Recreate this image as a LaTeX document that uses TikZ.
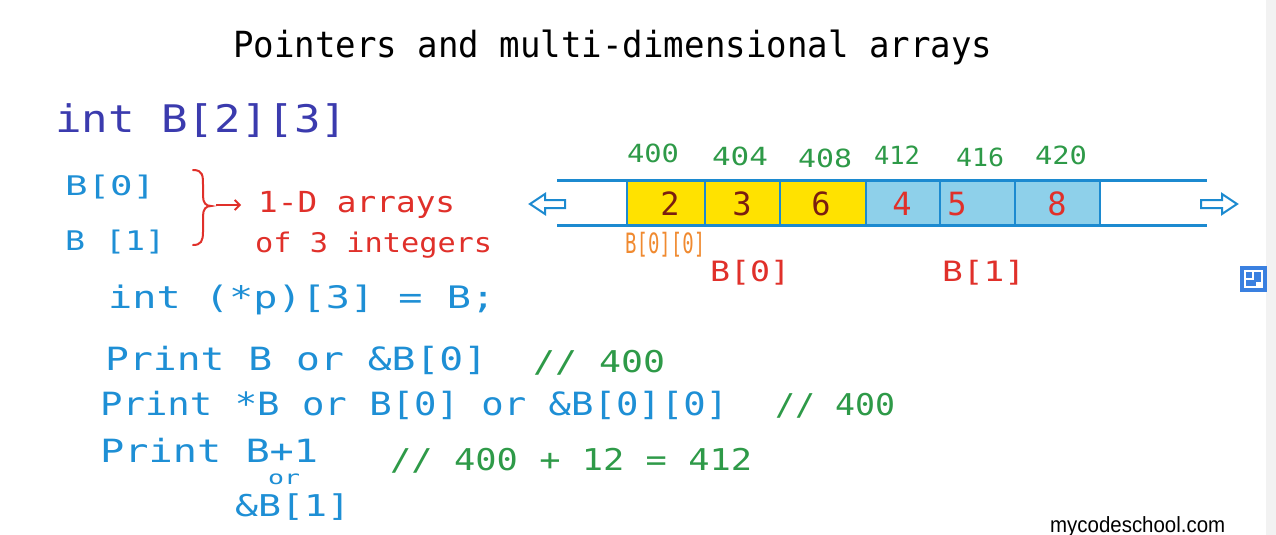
\documentclass[tikz,border=0pt]{standalone}
\usepackage{fontspec}
\newfontfamily\hand{DejaVu Sans Mono}
\setsansfont{Liberation Sans}
\usetikzlibrary{arrows.meta}
\definecolor{navy}{HTML}{3B3BAE}
\definecolor{sky}{HTML}{1E8FD5}
\definecolor{redink}{HTML}{E0302A}
\definecolor{greenink}{HTML}{2E9A48}
\definecolor{orangeink}{HTML}{F08A30}
\definecolor{brownink}{HTML}{7A1E10}
\definecolor{cellyellow}{HTML}{FFE200}
\definecolor{cellblue}{HTML}{8ED0EA}
\definecolor{lineblue}{HTML}{1C8AD0}
\definecolor{iconblue}{HTML}{3A80E0}
\newcommand\fw[2]{\resizebox{#1pt}{\height}{#2}}
\begin{document}
\begin{tikzpicture}[x=1pt,y=-1pt,
  hw/.style={inner sep=0pt, anchor=base west},
  hc/.style={inner sep=0pt, anchor=base},
  fs/.style={font=\hand\fontsize{#1}{#1}\selectfont},
  arrline/.style={lineblue, line width=3pt},
  cellline/.style={lineblue, line width=1.8pt},
  hollow/.style={lineblue, line width=2pt, fill=white, line join=miter}]
\fill[white] (0,0) rectangle (1276,535);
\path[use as bounding box] (0,0) rectangle (1276,535);
\fill[black!5] (1266,0) rectangle (1276,535);
% title
\node[hw, fs=36, black] (title) at (233,58) {\fw{759}{Pointers and multi-dimensional arrays}};
% declarations
\node[hw, fs=38, navy] (decl) at (55,132) {\fw{292}{int B[2][3]}};
\node[hw, fs=27, sky] (b0) at (65,195) {\fw{90}{B[0]}};
\node[hw, fs=27, sky] (b1) at (65,250) {\fw{100}{B [1]}};
% brace
\draw[redink, line width=2pt, line cap=round]
  (193,170) .. controls (203,170) and (203,176) .. (203,185)
  -- (203,196) .. controls (203,203) and (206,206) .. (211,206)
  .. controls (206,206) and (203,209) .. (203,216)
  -- (203,232) .. controls (203,241) and (201,245) .. (193,245);
\coordinate (bracetip) at (216,205);
\coordinate (arrowend) at (241,205);
\node[hw, fs=29, redink] (oned) at (258,212) {\fw{197}{1-D arrays}};
\node[hw, fs=27, redink] (ofthree) at (255,252) {\fw{237}{of 3 integers}};
\draw[redink, line width=1.8pt, -{Straight Barb[length=5pt,width=10pt]}] (bracetip) -- (arrowend);
\node[hw, fs=31, sky] (ptr) at (108,308) {\fw{387}{int (*p)[3] = B;}};
% prints
\node[hw, fs=32, sky] (p1) at (105,370) {\fw{382}{Print B or \&B[0]}};
\node[hw, fs=30, greenink] (g1) at (533,372) {\fw{132}{// 400}};
\node[hw, fs=32, sky] (p2) at (100,415) {\fw{628}{Print *B or B[0] or \&B[0][0]}};
\node[hw, fs=30, greenink] (g2) at (775,415) {\fw{120}{// 400}};
\node[hw, fs=32, sky] (p3) at (100,462) {\fw{218}{Print B+1}};
\node[hw, fs=19, sky] (por) at (268,484) {\fw{32}{or}};
\node[hw, fs=30, sky] (p3b) at (235,516) {\fw{115}{\&B[1]}};
\node[hw, fs=30, greenink] (g3) at (390,470) {\fw{362}{// 400 + 12 = 412}};
% array cells
\fill[cellyellow] (627,180) rectangle (866,225);
\fill[cellblue] (866,180) rectangle (1100,225);
\foreach \x in {627,705,780,866,940,1015,1100}
  \draw[cellline] (\x,180) -- (\x,225);
\draw[arrline] (557,180) -- (1207,180);
\draw[arrline] (557,225) -- (1207,225);
% hollow arrows
\draw[hollow] (530,204) -- (545,194) -- (545,200) -- (565,200) -- (565,208) -- (545,208) -- (545,214) -- cycle;
\draw[hollow] (1237,204) -- (1222,194) -- (1222,200) -- (1201,200) -- (1201,208) -- (1222,208) -- (1222,214) -- cycle;
% cell values
\node[hc, fs=32, brownink] (v0) at (670,215) {2};
\node[hc, fs=32, brownink] (v1) at (742,215) {3};
\node[hc, fs=32, brownink] (v2) at (821,215) {6};
\node[hc, fs=32, redink] (v3) at (902,215) {4};
\node[hc, fs=32, redink] (v4) at (957,215) {5};
\node[hc, fs=32, redink] (v5) at (1057,215) {8};
% addresses
\node[hc, fs=25, greenink] (a0) at (653,162) {\fw{52}{400}};
\node[hc, fs=25, greenink] (a1) at (740,165) {\fw{56}{404}};
\node[hc, fs=25, greenink] (a2) at (825,167) {\fw{54}{408}};
\node[hc, fs=25, greenink] (a3) at (897,164) {\fw{46}{412}};
\node[hc, fs=25, greenink] (a4) at (980,166) {\fw{48}{416}};
\node[hc, fs=25, greenink] (a5) at (1061,164) {\fw{52}{420}};
% labels below
\node[hw, fs=28, orangeink] (l00) at (625,253) {\fw{80}{B[0][0]}};
\node[hw, fs=28, redink] (lb0) at (710,281) {\fw{80}{B[0]}};
\node[hw, fs=28, redink] (lb1) at (942,281) {\fw{83}{B[1]}};
% watermark
\node[hw, font=\sffamily\fontsize{22}{22}\selectfont, black] (wm) at (1050,532) {\fw{175}{mycodeschool.com}};
% icon
\fill[iconblue] (1240,266) rectangle (1267,292);
\draw[white, line width=1.2pt] (1245,271) rectangle (1262,287);
\draw[white, line width=1.2pt] (1245,279) -- (1253,279) -- (1253,271);
\fill[white] (1256,282) rectangle (1262,287);
\end{tikzpicture}
\end{document}
